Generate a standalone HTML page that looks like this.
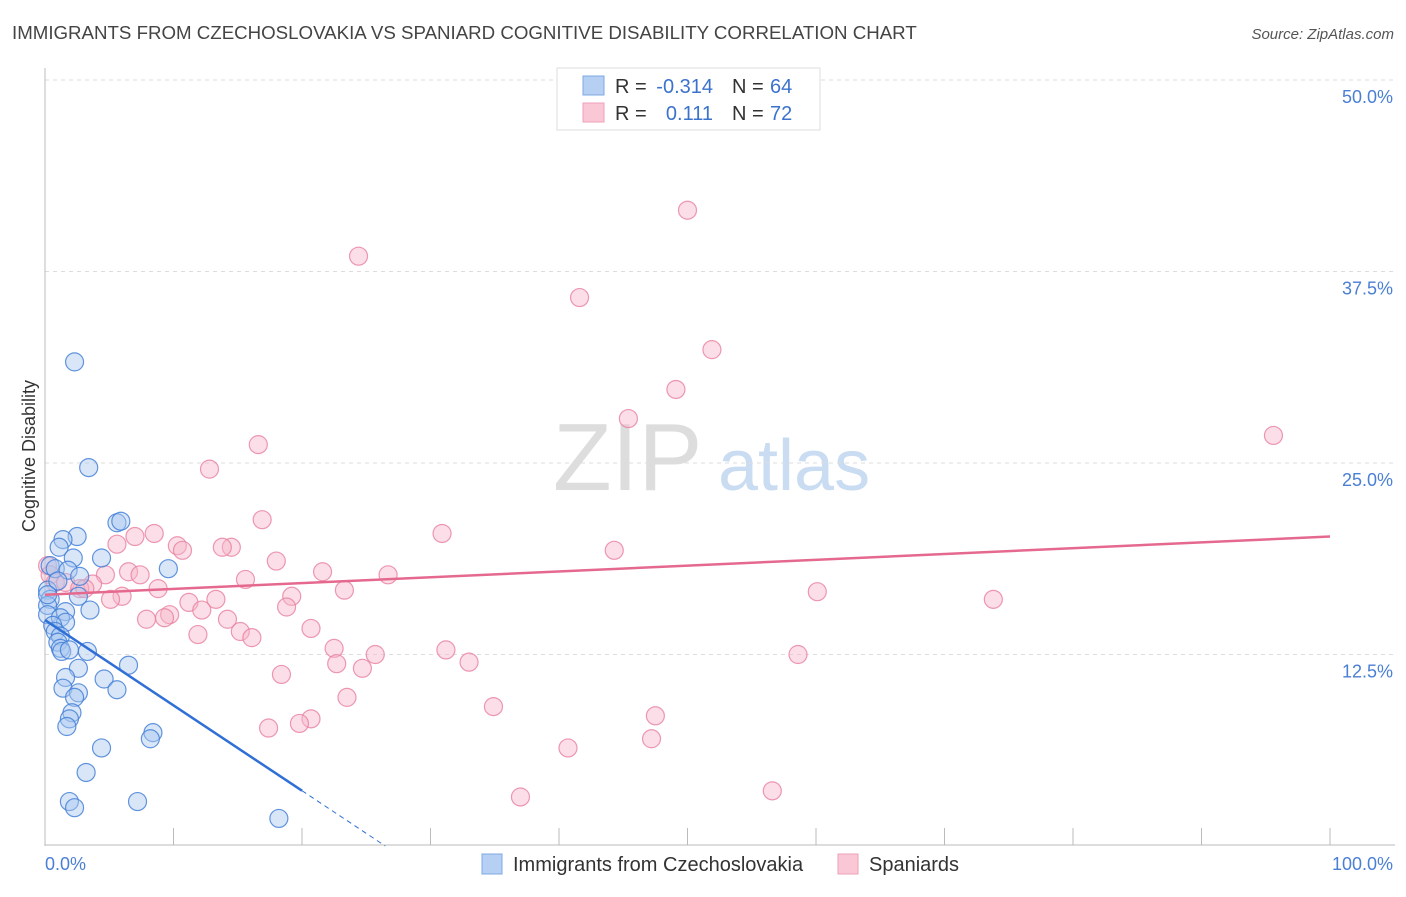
<!DOCTYPE html>
<html><head><meta charset="utf-8"><style>
body{margin:0;background:#fff;font-family:"Liberation Sans",sans-serif;}
svg text{font-family:"Liberation Sans",sans-serif;}
</style></head><body>
<svg id="chart" width="1406" height="892">
<text x="12" y="39" font-size="18.7" fill="#444">IMMIGRANTS FROM CZECHOSLOVAKIA VS SPANIARD COGNITIVE DISABILITY CORRELATION CHART</text>
<text x="1394" y="39" font-size="15" fill="#555" font-style="italic" text-anchor="end">Source: ZipAtlas.com</text>
<g>
<text x="553" y="490" font-size="96" font-family="Liberation Serif,serif" fill="#ddd">ZIP</text>
<text x="718" y="490" font-size="72" fill="#c9dcf2">atlas</text>
</g>
<g id="grid"></g>
<g id="axes"></g>
<g id="marks"></g>
<text transform="translate(35,456) rotate(-90)" font-size="18" fill="#333" text-anchor="middle">Cognitive Disability</text>
<text x="45" y="870" font-size="18" fill="#4a7fd4">0.0%</text>
<text x="1393" y="870" font-size="18" fill="#4a7fd4" text-anchor="end">100.0%</text>
<g>
<rect x="557" y="68" width="263" height="62" fill="#fff" stroke="#ddd"/>
<rect x="583" y="76" width="21" height="19" fill="#b6d0f3" stroke="#7fa8e0"/>
<rect x="583" y="103" width="21" height="19" fill="#f9c7d5" stroke="#eea0b8"/>
<text x="615" y="93" font-size="20" fill="#333">R =</text>
<text x="713" y="93" font-size="20" fill="#3b73cc" text-anchor="end">-0.314</text>
<text x="732" y="93" font-size="20" fill="#333">N =</text>
<text x="770" y="93" font-size="20" fill="#3b73cc">64</text>
<text x="615" y="120" font-size="20" fill="#333">R =</text>
<text x="713" y="120" font-size="20" fill="#3b73cc" text-anchor="end">0.111</text>
<text x="732" y="120" font-size="20" fill="#333">N =</text>
<text x="770" y="120" font-size="20" fill="#3b73cc">72</text>
</g>
<g>
<rect x="482" y="854" width="20" height="20" fill="#b6d0f3" stroke="#7fa8e0"/>
<text x="513" y="871" font-size="20" fill="#333">Immigrants from Czechoslovakia</text>
<rect x="838" y="854" width="20" height="20" fill="#f9c7d5" stroke="#eea0b8"/>
<text x="869" y="871" font-size="20" fill="#333">Spaniards</text>
</g>
</svg>
<script>
const yTicks=[12.5,25,37.5,50];
const yTickLabels=["12.5%","25.0%","37.5%","50.0%"];
const blueX=[2.3,3.4,5.6,5.9,2.5,1.4,1.1,2.2,4.4,9.6,0.4,0.8,1.8,2.7,0.2,2.6,0.4,0.2,3.5,1.6,0.2,1.2,1.6,0.6,0.8,1.2,1.0,1.2,1.3,1.9,3.3,2.6,6.5,1.6,1.4,4.6,5.6,2.6,2.3,2.1,1.9,1.7,8.4,8.2,4.4,3.2,1.9,2.3,7.2,18.2,1.0,0.2];
const blueY=[31.6,24.7,21.1,21.2,20.2,20.0,19.5,18.8,18.8,18.1,18.3,18.1,18.0,17.6,16.7,16.3,16.1,15.7,15.4,15.3,15.1,14.9,14.6,14.4,14.0,13.7,13.3,12.9,12.7,12.8,12.7,11.6,11.8,11.0,10.3,10.9,10.2,10.0,9.7,8.7,8.3,7.8,7.4,7.0,6.4,4.8,2.9,2.5,2.9,1.8,17.3,16.4];
const pinkX=[50.0,24.4,41.6,51.9,49.1,45.4,95.6,16.6,12.8,16.9,8.5,30.9,7.0,5.6,10.3,10.7,14.5,13.8,44.3,18.0,0.2,0.4,6.5,4.7,7.4,21.6,26.7,15.6,0.8,1.6,3.7,2.7,3.1,8.8,23.3,60.1,6.0,5.1,19.2,13.3,11.2,73.8,18.8,12.2,9.7,9.3,7.9,14.2,20.7,15.2,16.1,11.9,22.5,31.2,25.7,58.6,22.7,33.0,24.7,18.4,23.5,34.9,47.5,20.7,19.8,17.4,47.2,40.7,56.6,37.0];
const pinkY=[41.5,38.5,35.8,32.4,29.8,27.9,26.8,26.2,24.6,21.3,20.4,20.4,20.2,19.7,19.6,19.3,19.5,19.5,19.3,18.6,18.3,17.7,17.9,17.7,17.7,17.9,17.7,17.4,17.2,17.2,17.1,16.8,16.8,16.8,16.7,16.6,16.3,16.1,16.3,16.1,15.9,16.1,15.6,15.4,15.1,14.9,14.8,14.8,14.2,14.0,13.6,13.8,12.9,12.8,12.5,12.5,11.9,12.0,11.6,11.2,9.7,9.1,8.5,8.3,8.0,7.7,7.0,6.4,3.6,3.2];
const blueTrend=[14.75,-0.557];
const pinkTrend=[16.4,0.038];
const NS="http://www.w3.org/2000/svg";
const X=v=>45+v*12.85, Y=v=>846-v*15.32;
function mk(t,a,p){const e=document.createElementNS(NS,t);for(const k in a)e.setAttribute(k,a[k]);p.appendChild(e);return e;}
const grid=document.getElementById('grid'),axes=document.getElementById('axes'),marks=document.getElementById('marks');
yTicks.forEach((t,i)=>{
 const l=mk('line',{x1:45,x2:1395,y1:Y(t),y2:Y(t),stroke:'#ddd','stroke-dasharray':'4 4'},grid);
 
 
 const tx=mk('text',{x:1393,y:Y(t)+23,'font-size':18,fill:'#4a7fd4','text-anchor':'end'},grid);
 tx.textContent=yTickLabels[i];
 
 
});
const ya=mk('line',{x1:45,x2:45,y1:68,y2:846,stroke:'#bbb'},axes);


const xa=mk('line',{x1:45,x2:1395,y1:845,y2:845,stroke:'#bbb'},axes);


for(let i=1;i<=10;i++){const t=mk('line',{x1:X(i*10),x2:X(i*10),y1:828,y2:845,stroke:'#bbb'},axes);
 
 }
function pts(xs,ys,fill,stroke,name){xs.forEach((x,i)=>{const c=mk('circle',{cx:X(x),cy:Y(ys[i]),r:9,fill:fill,'fill-opacity':0.45,stroke:stroke,'stroke-width':1.2,'stroke-opacity':0.8},marks);
 
 });}
pts(pinkX,pinkY,'#f7b6c9','#e8809f','spaniard-point');
pts(blueX,blueY,'#a9c8f0','#3d7ad6','czech-point');
const x0=-blueTrend[0]/blueTrend[1];
const bl=mk('line',{x1:X(0),y1:Y(blueTrend[0]),x2:X(20),y2:Y(blueTrend[0]+20*blueTrend[1]),stroke:'#2f6fd6','stroke-width':2.5},marks);


const bd=mk('line',{x1:X(20),y1:Y(blueTrend[0]+20*blueTrend[1]),x2:X(x0),y2:Y(0),stroke:'#2f6fd6','stroke-width':1,'stroke-dasharray':'5 4'},marks);


const pl=mk('line',{x1:X(0),y1:Y(pinkTrend[0]),x2:X(100),y2:Y(pinkTrend[0]+100*pinkTrend[1]),stroke:'#e5698f','stroke-width':2.5},marks);


</script>
</body></html>
